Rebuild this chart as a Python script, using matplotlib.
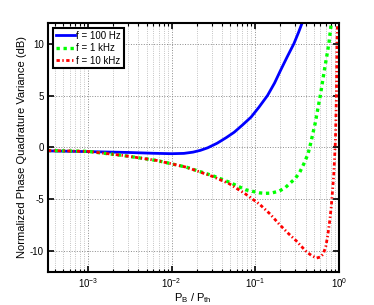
"""
plot.py

Normalized phase quadrature variance vs. P_B / P_th for three frequencies.
Values read off the reference figure.
"""

import numpy as np
import matplotlib
matplotlib.use("Agg")
import matplotlib.pyplot as plt
from matplotlib.ticker import LogLocator, NullFormatter


# ============================================================
# DATA
# ============================================================
pb_100hz = [3.3e-4, 1e-3, 3e-3, 6e-3, 1e-2, 1.4e-2, 1.8e-2, 2.2e-2, 2.7e-2,
            3.5e-2, 4.5e-2, 5.6e-2, 7e-2, 8.9e-2, 0.11, 0.14, 0.17, 0.2,
            0.24, 0.29, 0.33, 0.36, 0.4]
nv_100hz = [-0.33, -0.40, -0.48, -0.56, -0.60, -0.57, -0.45, -0.28, -0.03,
            0.41, 0.95, 1.47, 2.15, 2.92, 3.85, 5.0, 6.2, 7.4,
            8.7, 10.0, 11.1, 11.9, 13.0]

pb_1khz = [3.3e-4, 1e-3, 2.6e-3, 6.6e-3, 1.5e-2, 3.1e-2, 4.9e-2, 7.7e-2,
           0.112, 0.13, 0.154, 0.194, 0.23, 0.256, 0.3, 0.34, 0.38, 0.427,
           0.457, 0.52, 0.60, 0.67, 0.76, 0.81, 0.85]
nv_1khz = [-0.30, -0.38, -0.77, -1.25, -1.9, -2.72, -3.35, -4.08,
           -4.37, -4.42, -4.4, -4.2, -3.85, -3.5, -3.0, -2.4, -1.6, -0.64,
           0.3, 2.3, 5.0, 7.4, 10.0, 11.9, 13.5]

pb_10khz = [3.3e-4, 1e-3, 2.6e-3, 6.6e-3, 1.5e-2, 3.1e-2, 4.9e-2, 7.7e-2,
            0.112, 0.15, 0.194, 0.25, 0.31, 0.41, 0.47, 0.54, 0.6, 0.65,
            0.70, 0.74, 0.78, 0.81, 0.84, 0.87, 0.89, 0.91, 0.935, 0.95,
            0.965, 0.975]
nv_10khz = [-0.30, -0.38, -0.77, -1.25, -1.9, -2.8, -3.5, -4.5,
            -5.45, -6.4, -7.4, -8.3, -9.0, -10.05, -10.4, -10.65, -10.55,
            -10.27, -9.5, -8.35, -7.0, -5.77, -4.2, -2.56, -1.0, 0.67, 5.0,
            10.0, 12.0, 14.0]

series_labels = ["f = 100 Hz", "f = 1 kHz", "f = 10 kHz"]
y_ticks = [-10, -5, 0, 5, 10]
# ============================================================


def main():
    plt.rcParams["font.family"] = ["Liberation Sans", "DejaVu Sans"]
    plt.rcParams["mathtext.default"] = "regular"
    plt.rcParams["axes.unicode_minus"] = False

    fig = plt.figure(figsize=(3.74, 3.05), dpi=100)
    ax = fig.add_axes([0.128, 0.108, 0.778, 0.817])

    ax.semilogx(pb_100hz, nv_100hz, "-", color="#0000ff", lw=2.0,
                label=series_labels[0])
    ax.semilogx(pb_1khz, nv_1khz, color="#00ff00", lw=2.4,
                dashes=(1.0, 1.1), label=series_labels[1])
    ax.semilogx(pb_10khz, nv_10khz, color="#ff0000", lw=2.0,
                dashes=(1.2, 0.9, 0.5, 0.9), label=series_labels[2])

    ax.set_xlim(3.3e-4, 1.0)
    ax.set_ylim(-12, 12)
    ax.set_yticks(y_ticks)
    ax.set_yticklabels([str(v) for v in y_ticks])

    ax.xaxis.set_major_locator(LogLocator(base=10, numticks=10))
    ax.xaxis.set_minor_locator(LogLocator(base=10, subs=np.arange(2, 10),
                                          numticks=20))
    ax.xaxis.set_minor_formatter(NullFormatter())

    ax.grid(True, which="major", axis="both", ls=":", color="#8a8a8a", lw=0.7)
    ax.grid(True, which="minor", axis="x", ls=":", color="#b0b0b0", lw=0.6)

    ax.tick_params(which="both", direction="in", top=True, right=True,
                   labelsize=7, pad=3)
    ax.tick_params(which="major", length=4, width=1.2)
    ax.tick_params(which="minor", length=2.5, width=0.8)
    for sp in ax.spines.values():
        sp.set_linewidth(1.5)
        sp.set_color("black")

    ax.set_xlabel(r"P$_{B}$ / P$_{th}$", fontsize=8, labelpad=1)
    ax.set_ylabel("Normalized Phase Quadrature Variance (dB)", fontsize=8,
                  labelpad=2)

    leg = ax.legend(loc="upper left", fontsize=7, handlelength=2.0,
                    handletextpad=0.1, borderaxespad=0.5, borderpad=0.3,
                    labelspacing=0.25, fancybox=False, framealpha=1)
    leg.get_frame().set_edgecolor("black")
    leg.get_frame().set_linewidth(1.5)

    fig.savefig("out.png", dpi=100)


if __name__ == "__main__":
    main()
